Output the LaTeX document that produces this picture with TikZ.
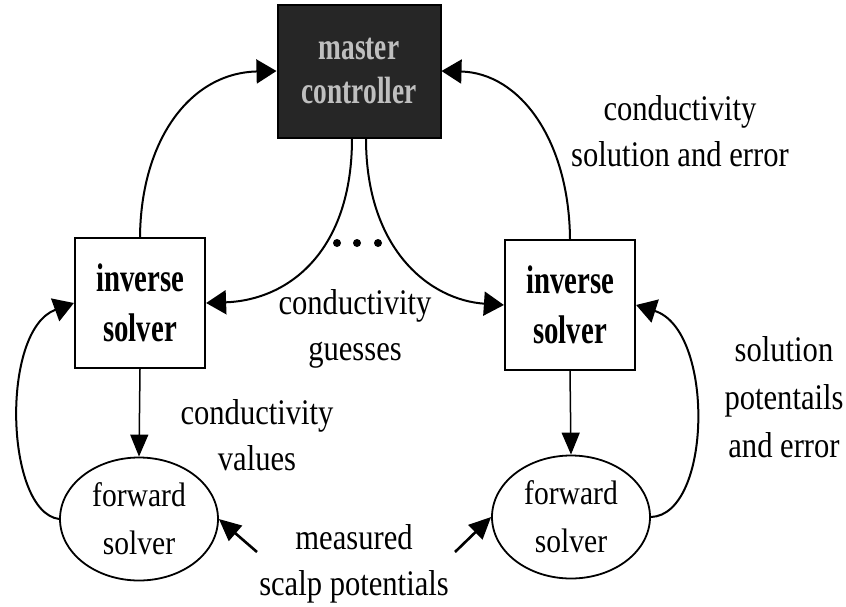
\documentclass[tikz,border=0pt]{standalone}
\usepackage{fontspec}
\setmainfont{Liberation Serif}
\newfontfamily\nfont[FakeStretch=0.85]{Liberation Serif}
\newfontfamily\ffont[FakeStretch=0.87]{Liberation Serif}
\newfontfamily\bfont[FakeStretch=0.72]{Liberation Serif}
\usetikzlibrary{arrows.meta,shapes.geometric}
\begin{document}
\begin{tikzpicture}[x=1pt,y=-1pt,
  lbl/.style={align=center,inner sep=0pt,font=\nfont\fontsize{36}{46}\selectfont},
  invbox/.style={draw,line width=2.2pt,minimum width=130pt,minimum height=130pt,inner sep=0pt,align=center,font=\bfont\fontsize{40}{50}\selectfont\bfseries},
  fwd/.style={draw,ellipse,line width=1.8pt,minimum width=158pt,minimum height=123pt,inner sep=0pt,align=center,font=\ffont\fontsize{34}{48}\selectfont},
  conn/.style={line width=2pt,-{Triangle[length=20pt,width=24pt]}},
  vconn/.style={line width=1.5pt,-{Triangle[length=22pt,width=18pt]}},
  meas/.style={line width=2.6pt,-{Triangle[length=22pt,width=20pt]}}]
\useasboundingbox (0,0) rectangle (846,606);
% nodes
\node[draw,line width=2pt,fill=black!85,minimum width=163pt,minimum height=133pt,inner sep=0pt,
      align=center,text=black!25,font=\bfont\fontsize{38}{44}\selectfont\bfseries] (master) at (359,71) {master\\controller};
\node[invbox] (ilb) at (140,303) {inverse\\solver};
\node[invbox] (irb) at (570,305) {inverse\\solver};
\node[fwd] (fl) at (139,519) {forward\\solver};
\node[fwd] (fr) at (571,517) {forward\\solver};
% labels
\node[lbl] (l1) at (680,131) {conductivity\\solution and error};
\node[lbl] (l2) at (355,329) {conductivity\\guesses};
\node[lbl] (l3) at (257,435) {conductivity\\values};
\node[lbl] (l4) at (354,564) {measured\\scalp potentials};
\node[lbl,font=\nfont\fontsize{36}{48}\selectfont] (l5) at (784,397) {solution\\potentails\\and error};
% dots
\foreach \x in {337,357,378} \fill (\x,243) circle (4pt);
% connectors
\draw[conn] (ilb.north) .. controls (141,140) and (190,73) .. (master.west);
\draw[conn] (irb.north) .. controls (569,140) and (520,73) .. (master.east);
\draw[conn] ([xshift=-7pt]master.south) .. controls (352,250) and (290,300) .. (ilb.east);
\draw[conn] ([xshift=7pt]master.south) .. controls (366,250) and (430,300) .. (irb.west);
\draw[vconn] (ilb.south) -- (fl.north);
\draw[vconn] (irb.south) -- (fr.north);
\draw[conn] (fl.west) .. controls (5,512) and (0,330) .. (ilb.west);
\draw[conn] (fr.east) .. controls (712,515) and (715,330) .. (irb.east);
\coordinate (m1) at (257,552);
\coordinate (m2) at (455,552);
\draw[meas] (m1) -- (fl.east);
\draw[meas] (m2) -- (fr.west);
\end{tikzpicture}
\end{document}
